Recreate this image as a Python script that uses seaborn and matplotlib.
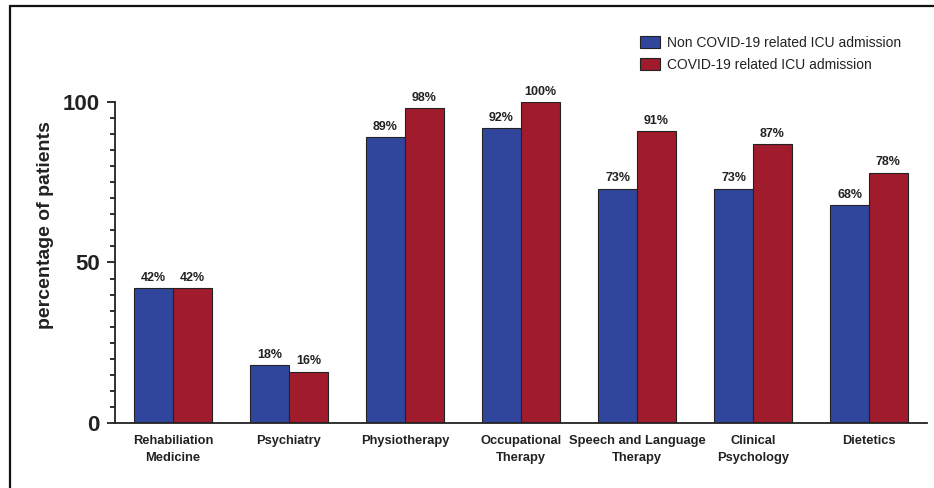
import pandas as pd
import numpy as np
import matplotlib.pyplot as plt
import matplotlib.lines as mlines
import seaborn as sns

# Data
services = ['Rehabiliation\nMedicine', 'Psychiatry', 'Physiotherapy',
            'Occupational\nTherapy', 'Speech and Language\nTherapy',
            'Clinical\nPsychology', 'Dietetics']
non_covid = [42, 18, 89, 92, 73, 73, 68]
covid = [42, 16, 98, 100, 91, 87, 78]
groups = ['Non COVID-19 related ICU admission', 'COVID-19 related ICU admission']
colors = ['#2F469C', '#A01B2B']

sns.set_style('ticks')
plt.rcParams['font.family'] = ['Liberation Sans', 'DejaVu Sans']
text_color = '#222222'

df = pd.DataFrame({
    'service': services * 2,
    'pct': non_covid + covid,
    'group': [groups[0]] * len(services) + [groups[1]] * len(services),
})

fig = plt.figure(figsize=(9.34, 4.88), dpi=100)
ax = fig.add_axes([0.1231, 0.1332, 0.8694, 0.6578])

sns.barplot(data=df, x='service', y='pct', hue='group', hue_order=groups,
            palette=colors, width=0.67, edgecolor='#222222', linewidth=0.8,
            saturation=1, errorbar=None, ax=ax)

# value labels above bars
for cont, vals in zip(ax.containers, [non_covid, covid]):
    ax.bar_label(cont, labels=[f'{v}%' for v in vals], padding=3,
                 fontsize=9, fontweight='bold', color=text_color)

ax.set_xlim(-0.5, 6.5)
ax.set_ylim(0, 100)
ax.set_yticks([0, 50, 100])
ax.set_yticks(np.arange(0, 101, 5), minor=True)
ax.tick_params(axis='y', which='major', length=6, width=1.3, pad=5,
               labelsize=16, colors=text_color)
ax.tick_params(axis='y', which='minor', length=3.5, width=1.3, colors=text_color)
for lab in ax.get_yticklabels():
    lab.set_fontweight('bold')
ax.tick_params(axis='x', length=0, pad=9, labelsize=9.3, colors=text_color)
for lab in ax.get_xticklabels():
    lab.set_fontweight('bold')
    lab.set_multialignment('center')
    lab.set_linespacing(1.5)

ax.set_xlabel('')
ax.set_ylabel('percentage of patients', fontsize=14, fontweight='bold',
              color=text_color)
ax.yaxis.set_label_coords(-0.075, 0.617)

sns.despine(ax=ax)
for side in ['left', 'bottom']:
    ax.spines[side].set_linewidth(1.3)
    ax.spines[side].set_color(text_color)

# legend at the top right
ax.get_legend().remove()
handles = [c.patches[0] for c in ax.containers]
fig.legend(handles, groups, loc='upper left', bbox_to_anchor=(0.672, 0.952),
           frameon=False, fontsize=10, handlelength=1.4, handleheight=1.0,
           handletextpad=0.55, labelspacing=0.55, labelcolor=text_color)

# frame lines around the figure (top and left)
fig.add_artist(mlines.Line2D([0.0105, 1.0], [0.988, 0.988], color='#111111', lw=1.6))
fig.add_artist(mlines.Line2D([0.0105, 0.0105], [0.0, 0.988], color='#111111', lw=1.6))

plt.savefig('out.png', dpi=100)
